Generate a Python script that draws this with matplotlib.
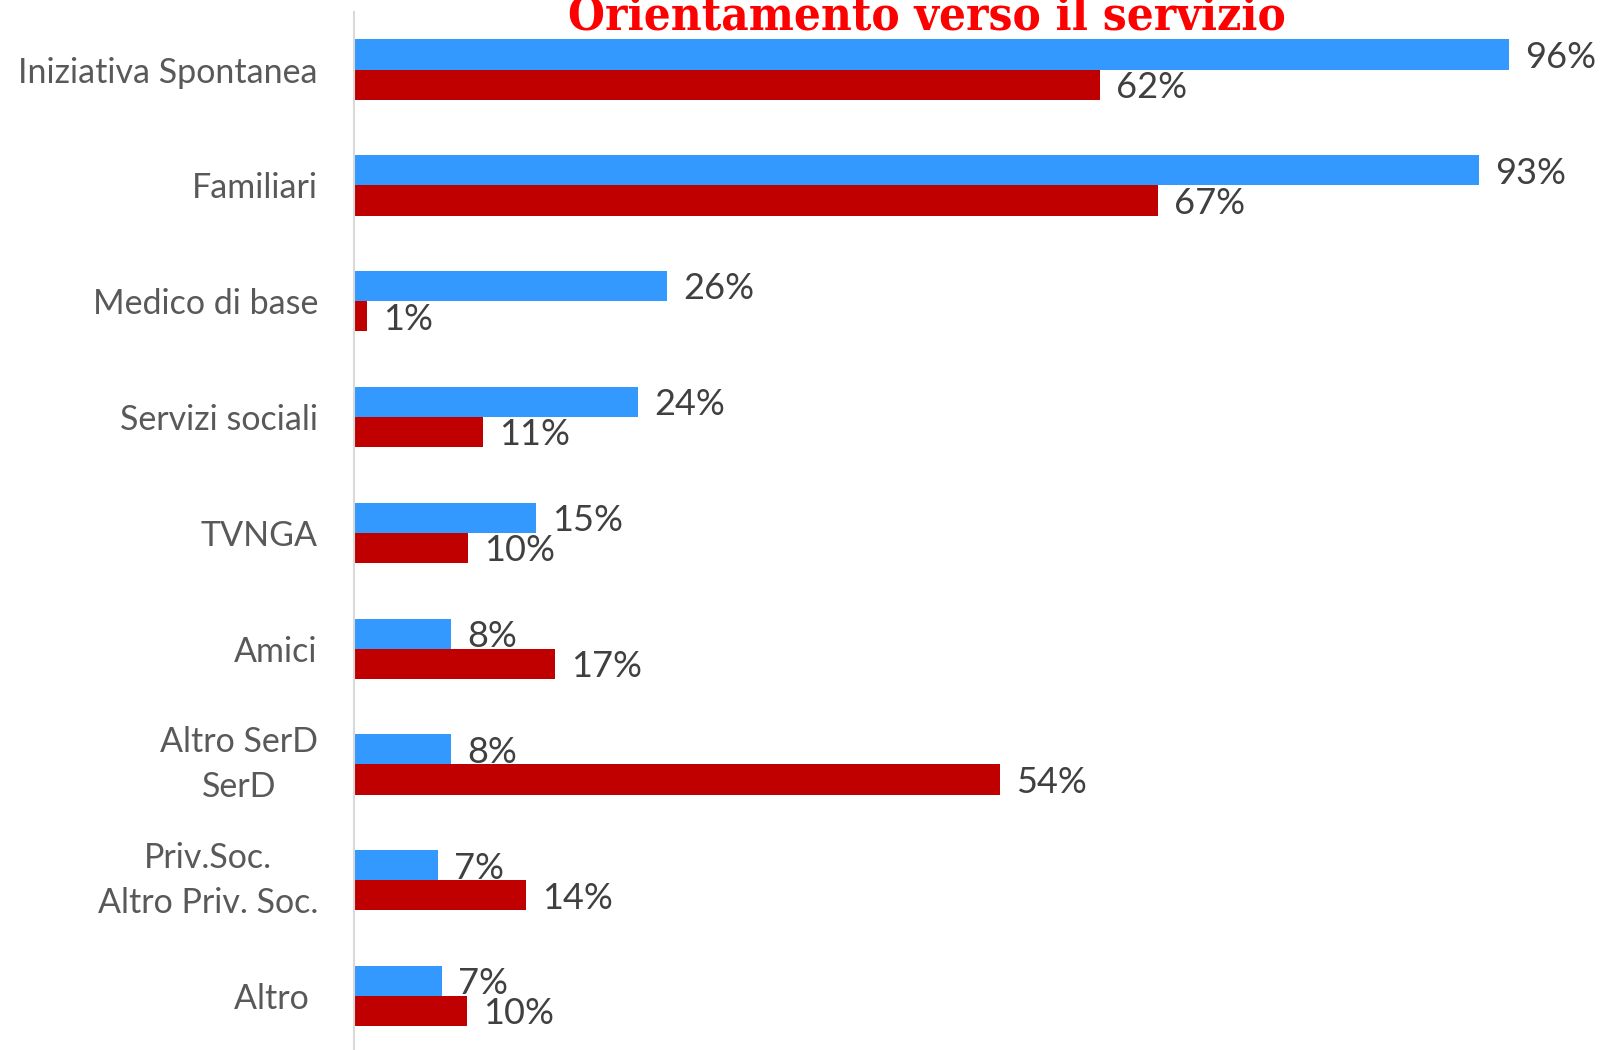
import matplotlib
matplotlib.use("Agg")
import matplotlib.pyplot as plt
import numpy as np

plt.rcParams['font.family'] = ['Lato', 'DejaVu Sans']

# categories top to bottom
categories = ["Iniziativa Spontanea", "Familiari", "Medico di base", "Servizi sociali",
              "TVNGA", "Amici", "Altro SerD\nSerD", "Priv.Soc.\nAltro Priv. Soc.", "Altro "]

# bar lengths (%)
blue_vals = [96.0, 93.5, 26.0, 23.6, 15.1, 8.1, 8.1, 7.0, 7.3]
red_vals = [62.0, 66.8, 1.1, 10.7, 9.5, 16.7, 53.7, 14.3, 9.4]

# printed labels
blue_labels = [96, 93, 26, 24, 15, 8, 8, 7, 7]
red_labels = [62, 67, 1, 11, 10, 17, 54, 14, 10]

BLUE = '#3399FF'
RED = '#C00000'

fig = plt.figure(figsize=(16.04, 10.5), dpi=100)
ax = fig.add_axes([354 / 1604, -4 / 1050, 1 - 354 / 1604, (1050 - 11.7 + 4) / 1050])

y = np.arange(len(categories))
h = 0.26
ax.barh(y - h / 2, blue_vals, height=h, color=BLUE, linewidth=0)
ax.barh(y + h / 2, red_vals, height=h, color=RED, linewidth=0)

for i in range(len(categories)):
    ax.annotate(f"{blue_labels[i]}%", (blue_vals[i], y[i] - h / 2), xytext=(11.5, -2),
                textcoords='offset points', va='center', ha='left', fontsize=26, color='#404040')
    ax.annotate(f"{red_labels[i]}%", (red_vals[i], y[i] + h / 2), xytext=(11.5, -2),
                textcoords='offset points', va='center', ha='left', fontsize=26, color='#404040')

ax.set_xlim(0, (1604 - 354) / 12.03)
ax.set_ylim(len(categories) - 0.5, -0.5)
ax.set_xticks([])
ax.set_yticks(y)
ax.set_yticklabels(categories, fontsize=24.5, color='#595959', linespacing=1.48)
for lbl in ax.get_yticklabels():
    lbl.set_multialignment('center')
    if '\n' in lbl.get_text():
        lbl.set_verticalalignment('center')
ax.tick_params(axis='y', length=0, pad=26)

for s in ['top', 'right', 'bottom']:
    ax.spines[s].set_visible(False)
ax.spines['left'].set_color('#D9D9D9')
ax.spines['left'].set_linewidth(1.5)

fig.text(927 / 1604, 1 - 29 / 1050, "Orientamento verso il servizio", ha='center', va='baseline',
         fontsize=34, color='#FF0000', fontweight='bold', fontstretch='condensed',
         family=['DejaVu Serif', 'Liberation Serif'])

fig.savefig('out.png', dpi=100)
